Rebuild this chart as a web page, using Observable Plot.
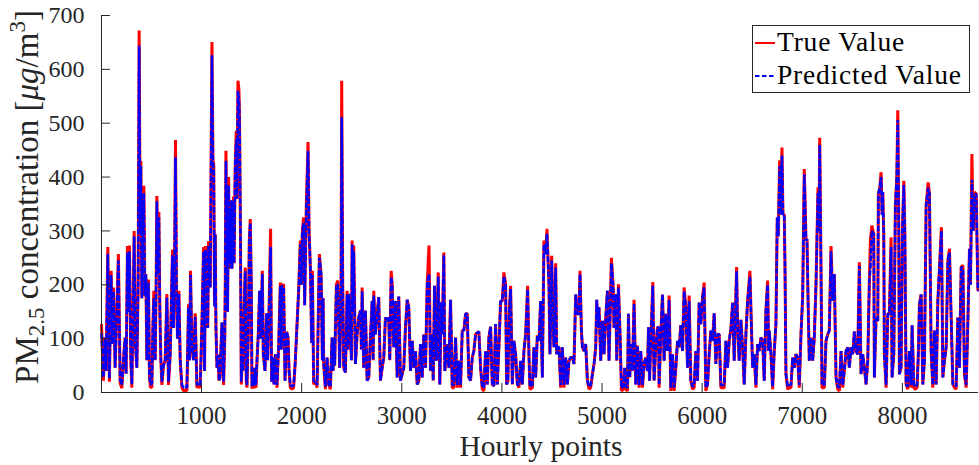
<!DOCTYPE html>
<html><head><meta charset="utf-8">
<script src="https://cdn.jsdelivr.net/npm/d3@7"></script>
<script src="https://cdn.jsdelivr.net/npm/@observablehq/plot@0.6"></script>
<style>
html,body{margin:0;padding:0;background:#fff;}
#wrap{width:979px;height:465px;overflow:hidden;}
#wrap svg text{font-family:"Liberation Serif","DejaVu Serif",serif;}
</style></head><body><div id="wrap"></div>
<script>
// Hourly index of each read point
const hours = [
1,20,37,47,64,80,97,110,120,137,154,170,187,204,220,237,247,260,270,280,294,304,317,327,340,354,367,377,387,394,
404,414,424,434,444,454,470,480,490,504,514,524,537,547,554,564,574,584,594,604,620,637,654,670,687,697,710,720,730,740,
750,760,774,787,804,820,837,854,870,880,890,904,920,937,954,970,987,1004,1020,1030,1040,1054,1062,1070,1087,1104,1114,1122,1130,1137,
1144,1154,1167,1174,1184,1190,1204,1220,1232,1237,1244,1254,1260,1270,1280,1284,1294,1300,1304,1320,1325,1337,1347,1354,1364,1374,1380,1389,1397,1404,
1414,1424,1437,1447,1454,1467,1477,1487,1497,1504,1514,1524,1534,1544,1554,1567,1580,1594,1607,1617,1634,1650,1660,1674,1690,1700,1714,1724,1737,1754,
1760,1770,1787,1797,1804,1820,1834,1850,1864,1874,1887,1904,1920,1937,1954,1970,1987,1997,2007,2020,2030,2047,2064,2074,2087,2100,2107,2120,2137,2154,
2177,2194,2207,2214,2220,2237,2254,2270,2287,2304,2314,2320,2330,2337,2347,2360,2374,2380,2394,2400,2410,2420,2437,2454,2464,2470,2487,2497,2504,2514,
2520,2537,2554,2570,2587,2597,2604,2620,2637,2654,2670,2687,2704,2714,2720,2737,2754,2770,2787,2804,2820,2837,2854,2870,2880,2894,2904,2920,2937,2954,
2970,2987,3004,3020,3037,3054,3070,3087,3104,3120,3137,3154,3170,3187,3204,3220,3237,3254,3272,3287,3304,3314,3327,3337,3347,3364,3380,3394,3404,3420,
3430,3454,3470,3487,3504,3520,3537,3554,3570,3587,3604,3620,3637,3654,3670,3687,3704,3720,3737,3754,3770,3787,3804,3820,3837,3854,3870,3887,3904,3920,
3937,3954,3970,3987,4004,4020,4037,4047,4060,4074,4087,4104,4120,4137,4154,4170,4187,4204,4220,4237,4257,4270,4280,4304,4320,4337,4354,4370,4387,4404,
4420,4437,4450,4470,4480,4497,4510,4520,4537,4547,4560,4570,4587,4604,4620,4637,4654,4670,4687,4704,4720,4737,4754,4770,4780,4794,4804,4820,4837,4854,
4870,4887,4904,4920,4937,4947,4960,4970,4987,5004,5020,5037,5054,5070,5094,5110,5120,5137,5147,5164,5180,5194,5214,5227,5237,5254,5264,5277,5287,5304,
5320,5337,5354,5370,5387,5404,5420,5437,5454,5464,5474,5487,5507,5520,5537,5554,5564,5570,5587,5604,5620,5637,5654,5670,5687,5704,5720,5737,5754,5770,
5787,5804,5820,5837,5854,5870,5887,5904,5920,5937,5954,5970,5987,6004,6020,6037,6054,6070,6087,6104,6120,6137,6154,6170,6187,6204,6220,6237,6254,6270,
6287,6304,6320,6344,6354,6370,6387,6404,6420,6437,6454,6477,6504,6520,6537,6554,6570,6587,6604,6620,6637,6654,6664,6670,6687,6704,6720,6737,6750,6760,
6774,6784,6797,6807,6820,6827,6837,6854,6870,6887,6904,6920,6937,6954,6970,6987,7004,7020,7037,7047,7060,7070,7087,7104,7120,7137,7157,7167,7174,7187,
7197,7220,7237,7254,7270,7287,7304,7320,7337,7354,7370,7387,7404,7420,7437,7454,7470,7487,7504,7520,7537,7554,7570,7587,7604,7620,7637,7654,7670,7680,
7695,7714,7720,7737,7754,7760,7774,7787,7797,7804,7814,7820,7837,7854,7870,7887,7897,7914,7930,7944,7954,7964,7970,7987,8000,8014,8024,8030,8037,8054,
8070,8087,8097,8114,8127,8147,8160,8170,8187,8204,8220,8237,8257,8270,8287,8304,8320,8337,8354,8370,8390,8404,8420,8437,8454,8470,8487,8504,8520,8537,
8554,8570,8587,8604,8620,8637,8654,8670,8680,8694,8707,8720,8737,8754,8760
];
// True PM2.5 values (µg/m3)
const trueVals = [
127,22,102,40,270,20,226,90,195,46,150,257,18,8,60,102,35,272,150,273,60,9,150,300,90,46,200,672,300,430,
175,300,384,180,220,60,210,30,9,10,120,189,60,200,365,220,335,150,60,14,50,60,183,14,70,150,265,120,230,469,
190,100,189,60,9,3,5,3,164,60,226,84,60,147,9,12,9,127,270,40,272,195,120,281,195,651,430,424,160,294,
121,46,70,22,28,60,130,14,100,200,449,232,150,400,240,340,230,357,230,364,240,424,486,360,579,561,500,294,15,60,
40,150,232,20,9,108,280,322,200,7,30,7,46,9,60,108,189,100,226,71,40,147,60,150,304,20,65,15,71,9,
40,84,204,80,198,201,22,113,102,40,9,6,9,59,127,189,282,200,300,325,162,350,465,300,232,92,226,15,22,9,
257,220,60,175,53,6,65,15,6,102,40,102,50,115,200,208,100,46,200,579,200,46,37,189,80,183,133,60,282,150,
273,53,108,139,152,80,195,46,152,22,28,102,170,60,189,108,146,177,22,46,65,139,133,139,60,226,201,84,170,28,
178,22,34,46,121,172,158,40,96,46,77,15,22,90,28,108,46,201,273,40,108,22,198,108,59,223,15,167,108,260,
40,90,46,172,9,9,102,9,59,9,115,115,146,146,28,22,65,77,108,111,113,46,6,3,77,15,102,122,15,12,
127,15,84,170,170,223,201,15,22,150,198,15,96,71,15,9,59,15,77,108,198,71,6,9,84,28,106,96,170,28,
282,257,304,201,71,254,130,84,240,71,84,84,9,84,9,65,15,59,65,65,53,182,146,146,226,115,84,77,90,22,
6,9,34,53,84,172,120,158,59,133,71,139,189,59,250,201,120,183,59,201,108,3,6,46,6,3,146,28,90,40,
172,15,87,9,77,9,53,65,40,121,22,90,205,22,84,121,121,9,108,182,59,146,77,180,3,71,3,46,96,84,
125,77,195,158,46,180,22,6,9,77,22,167,127,177,204,3,15,71,115,96,147,53,108,108,9,9,9,96,46,96,
118,167,59,233,121,59,135,84,15,108,170,226,46,71,9,90,77,102,96,22,152,208,77,115,71,6,77,127,325,290,
431,330,455,330,331,239,34,6,9,9,65,46,71,65,9,108,178,415,282,285,150,59,102,59,102,201,381,300,473,232,
9,9,96,108,115,272,170,220,28,6,3,77,9,40,77,84,46,84,71,113,77,71,242,34,71,46,15,59,208,282,
310,294,28,139,133,369,380,409,330,372,290,71,9,146,146,288,28,71,348,400,524,300,34,46,300,393,300,170,15,6,
77,9,125,9,6,9,77,164,182,15,59,347,390,369,77,9,115,15,170,230,307,28,59,84,245,267,139,15,9,6,
139,46,233,236,34,9,133,267,200,443,300,372,369,190,190
];
// Predicted PM2.5 values (µg/m3)
const predVals = [
110,28,102,40,257,26,218,90,188,46,150,245,24,14,60,102,35,260,150,262,60,15,150,290,90,46,200,644,300,420,
175,300,370,180,220,60,204,30,15,16,120,175,60,200,355,220,325,150,60,20,50,60,176,20,70,150,255,120,230,437,
190,100,183,60,14,9,10,9,158,60,218,84,60,140,14,16,14,127,262,40,265,195,120,272,195,626,430,410,160,294,
121,46,70,22,28,60,130,20,100,200,430,232,150,385,240,340,230,357,230,355,240,424,470,360,560,545,500,294,20,60,
40,150,225,20,14,108,280,315,200,12,30,12,46,14,60,108,189,100,220,71,40,147,60,150,270,20,65,15,71,14,
40,84,198,80,198,195,22,113,102,40,14,11,14,59,127,189,275,200,300,315,162,340,449,300,232,92,218,20,22,14,
250,220,60,175,53,11,65,15,11,102,40,102,50,115,200,200,100,46,200,511,200,46,37,182,80,183,133,60,275,150,
262,53,108,139,152,80,188,46,152,22,28,102,170,60,180,108,146,177,22,46,65,139,133,139,60,214,201,84,170,28,
178,22,34,46,121,172,158,40,96,46,77,15,22,90,28,108,46,201,220,40,108,22,198,108,59,215,15,167,108,255,
40,90,46,172,14,14,102,14,59,14,115,115,146,146,28,22,65,77,108,111,113,46,11,9,77,15,102,122,15,12,
127,15,84,170,170,215,201,15,22,150,192,15,96,71,15,14,59,15,77,108,192,71,11,14,84,28,106,96,170,28,
275,257,295,201,71,245,130,84,232,71,84,84,14,84,14,65,15,59,65,65,53,182,146,146,220,115,84,77,90,22,
11,14,34,53,84,172,120,158,59,133,71,139,189,59,240,201,120,183,59,195,108,9,11,46,11,9,146,28,90,40,
165,15,87,14,77,14,53,65,40,121,22,90,198,22,84,121,121,14,108,182,59,146,77,172,9,71,9,46,96,84,
125,77,188,158,46,170,22,11,14,77,22,167,127,177,195,9,15,71,115,96,147,53,108,108,14,14,14,96,46,96,
118,167,59,225,121,59,135,84,15,108,170,215,46,71,14,90,77,102,96,22,152,200,77,115,71,11,77,127,325,290,
420,330,440,330,331,239,34,11,14,14,65,46,71,65,14,108,178,405,282,285,150,59,102,59,102,201,370,300,460,232,
14,14,96,108,115,262,170,220,28,11,9,77,14,40,77,84,46,84,71,113,77,71,235,34,71,46,15,59,208,230,
300,294,28,139,133,369,380,400,330,372,290,71,14,146,146,270,28,71,348,400,506,300,34,46,300,385,300,170,15,11,
77,14,125,14,11,14,77,164,182,15,59,347,380,369,77,14,115,15,170,230,300,28,59,84,245,260,139,15,14,11,
139,46,233,230,34,14,133,267,200,395,300,365,369,190,190
];
const xTicks = [1000,2000,3000,4000,5000,6000,7000,8000];
const yTicks = [0,100,200,300,400,500,600,700];
const seriesNames = ["True Value", "Predicted Value"];

const W = 979, H = 465, mL = 101, mR = 1, mT = 15, mB = 73;
const innerW = W - mL - mR, innerH = H - mT - mB;
const axisColor = "#262626";
const serif = '"Liberation Serif", "DejaVu Serif", serif';

const trueData = hours.map((h, i) => ({h, v: trueVals[i]}));
const predData = hours.map((h, i) => ({h, v: predVals[i]}));

const chart = Plot.plot({
  width: W, height: H,
  marginLeft: mL, marginRight: mR, marginTop: mT, marginBottom: mB,
  style: {fontFamily: serif, background: "#fff", color: axisColor, overflow: "visible"},
  x: {domain: [1, 8760]},
  y: {domain: [0, 700]},
  marks: [
    Plot.line(trueData, {x: "h", y: "v", stroke: "#ff0000", strokeWidth: 3, strokeLinejoin: "miter", strokeLinecap: "butt"}),
    Plot.line(predData, {x: "h", y: "v", stroke: "#0000ff", strokeWidth: 2.6, strokeDasharray: "6,1.5", strokeLinejoin: "miter", strokeLinecap: "butt"}),
    Plot.ruleY([0], {stroke: axisColor, strokeWidth: 1}),
    Plot.ruleX([1], {stroke: axisColor, strokeWidth: 1}),
    Plot.tickX(xTicks, {x: d => d, stroke: axisColor, insetTop: innerH - 9}),
    Plot.tickY(yTicks, {y: d => d, stroke: axisColor, insetRight: innerW - 9}),
    Plot.axisX(xTicks, {tickSize: 0, tickPadding: 14, fontSize: 25, fontFamily: serif, tickFormat: d => String(d), label: null}),
    Plot.axisY(yTicks, {tickSize: 0, tickPadding: 17, fontSize: 24, fontFamily: serif, tickFormat: d => String(d), label: null})
  ]
});

const svg = d3.select(chart);
// x axis label
svg.append("text")
  .attr("x", 541).attr("y", 456)
  .attr("text-anchor", "middle")
  .attr("font-family", serif).attr("font-size", 29.5)
  .attr("fill", axisColor)
  .text("Hourly points");
// y axis label
const yl = svg.append("text")
  .attr("transform", "translate(38,197) rotate(-90)")
  .attr("text-anchor", "middle")
  .attr("font-family", serif).attr("font-size", 33)
  .attr("fill", axisColor);
yl.append("tspan").text("PM");
yl.append("tspan").attr("font-size", 23).attr("dy", 6).text("2.5");
yl.append("tspan").attr("dy", -6).text(" concentration [");
yl.append("tspan").attr("font-style", "italic").text("μg");
yl.append("tspan").text("/m");
yl.append("tspan").attr("font-size", 23).attr("dy", -13).text("3");
yl.append("tspan").attr("dy", 13).text("]");

// legend
const lg = svg.append("g");
lg.append("rect").attr("x", 752.5).attr("y", 25.5).attr("width", 217).attr("height", 67)
  .attr("fill", "#fff").attr("stroke", axisColor).attr("stroke-width", 1);
const legendItems = [
  {name: seriesNames[0], color: "#ff0000", dash: null, y: 43},
  {name: seriesNames[1], color: "#0000ff", dash: "4.5,2.5", y: 76}
];
for (const it of legendItems) {
  lg.append("line").attr("x1", 755).attr("x2", 775).attr("y1", it.y).attr("y2", it.y)
    .attr("stroke", it.color).attr("stroke-width", 2)
    .attr("stroke-dasharray", it.dash);
  lg.append("text").attr("x", 777).attr("y", it.y + 8)
    .attr("text-anchor", "start")
    .attr("font-family", serif).attr("font-size", 27.5).attr("letter-spacing", 0.8)
    .attr("fill", "#000").text(it.name);
}

document.getElementById("wrap").appendChild(chart);
</script>
</body></html>
